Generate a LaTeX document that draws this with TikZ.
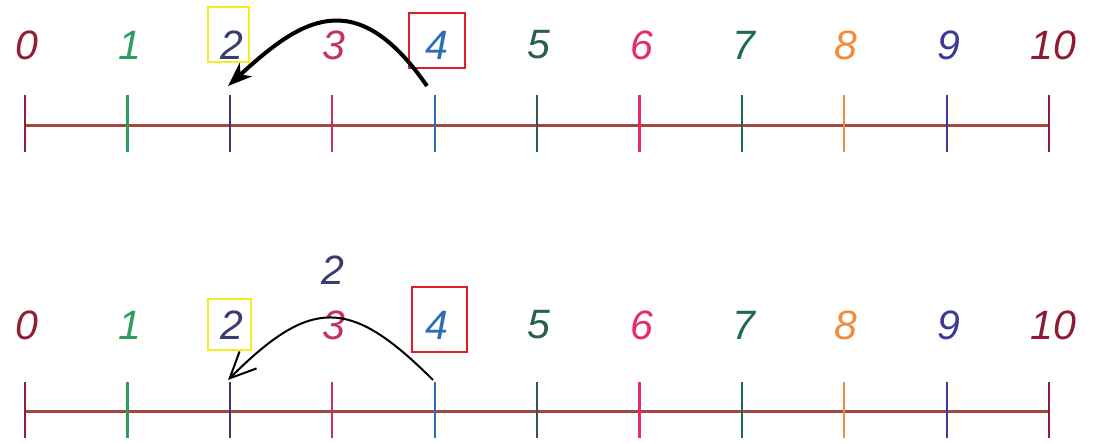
\documentclass[tikz,border=0pt]{standalone}
\usepackage{fontspec}
\setmainfont{Liberation Sans}
\usetikzlibrary{arrows.meta}
\definecolor{c0}{HTML}{8E1F35}
\definecolor{c1}{HTML}{2E9E5E}
\definecolor{c2}{HTML}{3A3B70}
\definecolor{c3}{HTML}{C2345E}
\definecolor{c4}{HTML}{2F6DB5}
\definecolor{c5}{HTML}{2C5E48}
\definecolor{c6}{HTML}{E8286F}
\definecolor{c7}{HTML}{1F6B4B}
\definecolor{c8}{HTML}{F08C3C}
\definecolor{c9}{HTML}{3B3A98}
\definecolor{c10}{HTML}{8C1B33}
\definecolor{axiscol}{HTML}{A4473F}
\definecolor{boxyellow}{HTML}{F4EC1E}
\definecolor{boxred}{HTML}{E01F22}
\tikzset{
  numlabel/.style={inner sep=0pt, font=\fontsize{41}{41}\selectfont\itshape},
  axisline/.style={draw=axiscol, line width=3pt},
  tickline/.style={line width=2.2pt},
  hlbox/.style={draw, line width=2.4pt, inner sep=0pt},
  jumpthick/.style={line width=4pt, -{Stealth[length=24pt,width=18pt,inset=7pt]}},
  jumpthin/.style={line width=2pt, -{Straight Barb[length=26pt,width=24pt,line width=2pt]}},
}
\begin{document}
\begin{tikzpicture}[x=1pt,y=-1pt]
\useasboundingbox (0,0) rectangle (1097,444);
% ---------- top number line ----------
\draw[axisline] (25,125) -- (1049,125);
\foreach \i in {0,...,10}{
  \pgfmathsetmacro{\xx}{25+102.4*\i}
  \draw[tickline, draw=c\i] (\xx,95) -- (\xx,152);
  \coordinate (ta\i) at (\xx,95);
}
\foreach \i in {0,...,9}{
  \pgfmathsetmacro{\xx}{27+102.4*\i}
  \node[numlabel, text=c\i] (t\i) at (\xx,45) {\i};
}
\node[numlabel, text=c10] (t10) at (1053,45) {10};
\node[hlbox, draw=boxyellow, minimum width=41pt, minimum height=55pt] (ty) at (228.5,34.5) {};
\node[hlbox, draw=boxred, minimum width=56pt, minimum height=55pt] (tr) at (437,40.5) {};
\coordinate (tstart) at (427,86);
\coordinate (tend) at (228,86);
\draw[jumpthick] (tstart) .. controls (355,-18) and (300,20) .. (tend);
% ---------- bottom number line ----------
\draw[axisline] (25,411) -- (1049,411);
\foreach \i in {0,...,10}{
  \pgfmathsetmacro{\xx}{25+102.4*\i}
  \draw[tickline, draw=c\i] (\xx,382) -- (\xx,438);
  \coordinate (tb\i) at (\xx,382);
}
\foreach \i in {0,...,9}{
  \pgfmathsetmacro{\xx}{27+102.4*\i}
  \node[numlabel, text=c\i] (b\i) at (\xx,325) {\i};
}
\node[numlabel, text=c10] (b10) at (1053,325) {10};
\node[numlabel, text=c2] (step2) at (333,270) {2};
\node[hlbox, draw=boxyellow, minimum width=43pt, minimum height=51pt] (by) at (229.5,324.5) {};
\node[hlbox, draw=boxred, minimum width=55pt, minimum height=65pt] (br) at (439.5,319.5) {};
\coordinate (bstart) at (433,380);
\coordinate (bend) at (228,380);
\draw[jumpthin] (bstart) .. controls (350,297) and (311,297) .. (bend);
\end{tikzpicture}
\end{document}
